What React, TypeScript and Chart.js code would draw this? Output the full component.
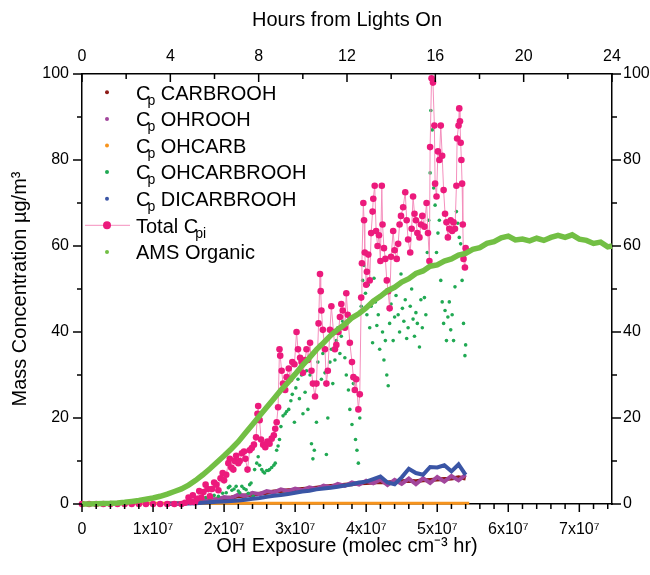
import React, { useEffect, useRef } from 'react';
import { Chart, registerables } from 'chart.js';

Chart.register(...registerables);

const FONT = '"Liberation Sans", Arial, Helvetica, sans-serif';
const EXPOSURE_UNIT = 1e7; // x values below are in units of 1e7 molec cm^-3 hr
const X_MAX = 7.46; // in EXPOSURE_UNIT
const HOURS_MAX = 24;

const exposureTicks = [0, 1, 2, 3, 4, 5, 6, 7];
const hourTicks = [0, 4, 8, 12, 16, 20, 24];
const concTicks = [0, 20, 40, 60, 80, 100];

const COLORS = {
  carbrooh: '#8e1b17',
  ohrooh: '#a2469c',
  ohcarb: '#f7941d',
  ohcarbrooh: '#20a953',
  dicarbrooh: '#3a55a5',
  total: '#ec1a7c',
  totalLine: '#f48fbd',
  ams: '#72bf44',
};

// AMS Organic [exposure, µg/m3]
const amsOrganic: [number, number][] = [
  [0, 0], [0.1, 0.02], [0.2, 0.05], [0.3, 0.1], [0.4, 0.15], [0.5, 0.25], [0.6, 0.4], [0.7, 0.6],
  [0.8, 0.8], [0.9, 1.1], [1.0, 1.4], [1.1, 1.8], [1.2, 2.3], [1.3, 2.9], [1.4, 3.5], [1.5, 4.4],
  [1.6, 5.5], [1.7, 6.8], [1.8, 8.2], [1.9, 9.7], [2.0, 11.2], [2.1, 12.8], [2.2, 14.5],
  [2.3, 16.5], [2.4, 18.5], [2.5, 20.5], [2.6, 22.5], [2.7, 24.5], [2.8, 26.5], [2.9, 28.3],
  [3.0, 30.2], [3.1, 32.2], [3.2, 34.0], [3.3, 35.9], [3.4, 37.5], [3.5, 39.2], [3.6, 40.6],
  [3.7, 41.8], [3.8, 43.3], [3.9, 44.3], [4.0, 45.6], [4.1, 47.2], [4.2, 48.3], [4.3, 49.6],
  [4.4, 50.4], [4.5, 51.6], [4.6, 52.4], [4.7, 53.6], [4.8, 54.2], [4.9, 55.3], [5.0, 55.6],
  [5.1, 56.5], [5.2, 57.0], [5.3, 57.9], [5.4, 58.3], [5.5, 59.2], [5.6, 59.6], [5.7, 60.6],
  [5.8, 61.0], [5.9, 61.9], [6.0, 62.3], [6.1, 61.4], [6.2, 61.6], [6.3, 61.2], [6.4, 61.8],
  [6.5, 61.3], [6.6, 62.0], [6.7, 62.5], [6.8, 62.0], [6.9, 62.6], [7.0, 61.6], [7.1, 61.3],
  [7.2, 60.6], [7.3, 60.9], [7.4, 59.8], [7.46, 60.0],
];

// Component series share one exposure grid
const componentX = [
  1.2, 1.3, 1.4, 1.5, 1.6, 1.7, 1.8, 1.9, 2.0, 2.1, 2.2, 2.3, 2.4, 2.5, 2.6, 2.7, 2.8, 2.9, 3.0,
  3.1, 3.2, 3.3, 3.4, 3.5, 3.6, 3.7, 3.8, 3.9, 4.0, 4.1, 4.2, 4.3, 4.4, 4.5, 4.6, 4.7, 4.8, 4.9,
  5.0, 5.1, 5.2, 5.3, 5.4,
];
const carbroohY = [
  0.05, 0.1, 0.15, 0.3, 0.5, 0.7, 0.9, 1.1, 1.3, 1.5, 1.8, 2.0, 2.2, 2.4, 2.6, 2.9, 3.0, 3.2,
  3.3, 3.5, 3.6, 3.8, 4.0, 4.2, 4.3, 4.5, 4.6, 4.8, 4.9, 5.0, 5.1, 5.0, 5.2, 5.3, 5.4, 5.3, 5.5,
  5.6, 5.7, 5.8, 5.9, 6.2, 5.9,
];
const ohroohY = [
  0.08, 0.12, 0.2, 0.4, 0.7, 0.6, 1.2, 1.0, 1.6, 1.4, 2.2, 1.9, 2.6, 2.3, 3.0, 2.7, 3.4, 3.0,
  3.6, 3.2, 3.9, 3.5, 4.3, 3.9, 4.7, 4.2, 5.0, 4.5, 5.4, 4.8, 5.7, 4.4, 5.6, 4.7, 5.9, 4.6, 6.0,
  4.9, 6.3, 5.2, 6.5, 5.5, 6.8,
];
const dicarbroohY = [
  0.05, 0.08, 0.1, 0.1, 0.15, 0.3, 0.4, 0.5, 0.6, 0.7, 0.8, 1.0, 1.2, 1.4, 1.7, 1.9, 2.1, 2.3,
  2.6, 2.9, 3.1, 3.4, 3.6, 3.8, 4.0, 4.3, 4.6, 5.0, 5.2, 5.8, 6.4, 5.0, 4.6, 6.2, 8.2, 7.2, 6.8,
  8.6, 8.5, 9.0, 7.6, 9.2, 6.8,
];
const ohcarbX = [0, 1, 2, 3, 4, 5, 5.45];
const ohcarbY = [0.2, 0.2, 0.2, 0.2, 0.2, 0.2, 0.2];

// OHCARBROOH [exposure, µg/m3]
const ohcarbrooh: [number, number][] = [
  [1.50, 0.5], [1.56, 0.8], [1.62, 0.6], [1.68, 1.0], [1.74, 1.5], [1.80, 1.2], [1.86, 2.0],
  [1.92, 1.8], [1.98, 2.5], [2.03, 2.6], [2.06, 3.8], [2.08, 4.1], [2.11, 3.2], [2.14, 3.5],
  [2.17, 4.1], [2.20, 3.0], [2.22, 2.6], [2.25, 4.1], [2.28, 3.6], [2.31, 3.3], [2.34, 2.5],
  [2.36, 4.5], [2.38, 4.9], [2.41, 1.8], [2.43, 8.0], [2.46, 9.5], [2.48, 11.0], [2.50, 9.0],
  [2.53, 8.0], [2.55, 7.5], [2.57, 7.2], [2.60, 7.8], [2.62, 7.8], [2.64, 8.0], [2.67, 8.5],
  [2.70, 9.0], [2.72, 9.5], [2.74, 12.5], [2.76, 13.5], [2.78, 15.0], [2.80, 18.0], [2.83, 20.5],
  [2.86, 21.0], [2.88, 21.5], [2.91, 22.0], [2.94, 24.0], [2.96, 25.5], [2.99, 19.0], [3.01, 27.0],
  [3.04, 29.0], [3.06, 24.5], [3.09, 30.0], [3.11, 21.0], [3.14, 26.0], [3.16, 31.0], [3.18, 22.0],
  [3.21, 30.0], [3.23, 14.0], [3.25, 10.5], [3.27, 12.5], [3.30, 19.0], [3.32, 33.0], [3.35, 37.0],
  [3.37, 29.0], [3.39, 35.0], [3.42, 30.5], [3.44, 11.5], [3.46, 20.0], [3.49, 33.0], [3.51, 36.0],
  [3.53, 28.0], [3.56, 33.5], [3.58, 38.0], [3.60, 41.0], [3.63, 35.0], [3.65, 39.0], [3.67, 42.5],
  [3.70, 34.0], [3.72, 30.0], [3.75, 26.5], [3.77, 22.0], [3.80, 18.5], [3.82, 28.0], [3.85, 15.0],
  [3.87, 12.5], [3.89, 9.5], [3.91, 20.0], [3.93, 46.0], [3.95, 52.0], [3.97, 55.5], [3.99, 49.0],
  [4.01, 44.0], [4.03, 51.0], [4.05, 41.0], [4.07, 46.0], [4.09, 37.5], [4.11, 52.5], [4.13, 47.0],
  [4.15, 41.5], [4.17, 44.0], [4.19, 36.0], [4.21, 48.5], [4.23, 40.0], [4.25, 33.5], [4.27, 38.0],
  [4.29, 30.0], [4.31, 27.5], [4.33, 42.0], [4.35, 46.5], [4.38, 38.0], [4.40, 43.5], [4.42, 48.5],
  [4.45, 44.0], [4.47, 40.0], [4.49, 53.5], [4.51, 45.5], [4.53, 42.5], [4.55, 47.5], [4.57, 38.5],
  [4.59, 41.0], [4.62, 46.0], [4.64, 50.0], [4.66, 43.0], [4.68, 39.0], [4.70, 44.5], [4.72, 42.0],
  [4.75, 36.5], [4.77, 47.5], [4.79, 41.0], [4.82, 48.0], [4.84, 44.0], [4.86, 58.5], [4.88, 66.0],
  [4.90, 77.0], [4.91, 91.5], [4.93, 87.0], [4.95, 73.5], [4.97, 69.5], [4.99, 58.5], [5.01, 63.0],
  [5.03, 66.0], [5.05, 52.0], [5.07, 47.0], [5.09, 42.0], [5.11, 45.0], [5.13, 38.0], [5.15, 43.5],
  [5.17, 47.0], [5.19, 40.5], [5.21, 44.0], [5.23, 38.0], [5.25, 50.5], [5.27, 68.0], [5.29, 65.3],
  [5.31, 62.0], [5.33, 60.5], [5.35, 52.0], [5.37, 42.0], [5.39, 34.5], [5.40, 37.0],
];

// Total Cpi [exposure, µg/m3]
const totalCpi: [number, number][] = [
  [0, 0], [0.1, 0], [0.2, 0], [0.3, 0], [0.4, 0], [0.5, 0], [0.6, 0], [0.7, 0], [0.8, 0],
  [0.9, 0], [1.0, 0], [1.1, 0], [1.2, 0], [1.3, 0], [1.4, 0],
  [1.45, 0.3], [1.50, 1.5], [1.53, 0.5], [1.56, 2.0], [1.59, 0.4], [1.62, 1.2], [1.65, 3.0],
  [1.68, 1.5], [1.71, 2.8], [1.74, 4.5], [1.77, 3.5], [1.80, 1.8], [1.83, 3.5], [1.86, 5.0],
  [1.89, 4.5], [1.92, 3.2], [1.95, 6.0], [1.98, 7.2], [2.00, 5.5], [2.03, 6.8], [2.06, 9.5],
  [2.08, 10.5], [2.10, 8.5], [2.13, 8.0], [2.15, 10.0], [2.17, 11.2], [2.20, 9.5], [2.22, 10.0],
  [2.25, 11.8], [2.28, 12.2], [2.30, 10.5], [2.33, 8.0], [2.36, 12.5], [2.39, 13.0], [2.42, 13.8],
  [2.45, 15.5], [2.47, 21.0], [2.48, 22.8], [2.50, 19.5], [2.52, 15.0], [2.55, 13.8], [2.58, 13.2],
  [2.61, 14.5], [2.64, 14.0], [2.67, 15.2], [2.70, 16.0], [2.72, 17.5], [2.74, 19.0], [2.76, 22.5],
  [2.78, 36.0], [2.79, 34.5], [2.81, 31.0], [2.83, 28.0], [2.86, 26.5], [2.88, 29.5], [2.91, 31.5],
  [2.93, 29.0], [2.96, 33.0], [2.99, 32.5], [3.02, 40.0], [3.04, 36.0], [3.07, 34.0], [3.09, 33.0],
  [3.11, 30.5], [3.14, 33.5], [3.16, 36.0], [3.18, 33.5], [3.21, 37.5], [3.23, 31.0], [3.25, 28.0],
  [3.28, 25.0], [3.30, 28.0], [3.33, 42.0], [3.35, 53.5], [3.36, 49.5], [3.37, 45.0], [3.39, 40.5],
  [3.42, 36.0], [3.44, 28.0], [3.46, 31.0], [3.49, 40.5], [3.51, 46.0], [3.54, 40.0], [3.56, 36.0],
  [3.58, 37.0], [3.61, 40.0], [3.63, 43.5], [3.65, 46.5], [3.67, 45.0], [3.70, 41.0], [3.72, 49.0],
  [3.74, 44.0], [3.77, 37.5], [3.80, 33.0], [3.82, 29.5], [3.84, 26.5], [3.86, 29.0], [3.89, 22.0],
  [3.91, 25.5], [3.93, 48.0], [3.94, 56.0], [3.96, 70.0], [3.97, 66.0], [3.98, 58.5], [4.00, 51.0],
  [4.01, 54.0], [4.03, 58.0], [4.05, 52.0], [4.07, 63.0], [4.09, 68.0], [4.10, 71.0], [4.12, 74.0],
  [4.14, 63.5], [4.16, 60.0], [4.18, 62.5], [4.20, 56.5], [4.22, 74.0], [4.23, 65.0], [4.25, 59.5],
  [4.27, 57.0], [4.29, 52.0], [4.31, 49.5], [4.33, 45.5], [4.35, 57.5], [4.38, 63.5], [4.40, 59.0],
  [4.43, 57.0], [4.45, 60.5], [4.47, 65.0], [4.49, 67.0], [4.52, 69.0], [4.55, 72.5], [4.57, 66.0],
  [4.59, 61.5], [4.62, 58.5], [4.64, 64.0], [4.66, 71.5], [4.68, 67.5], [4.70, 66.0], [4.72, 63.0],
  [4.75, 62.0], [4.77, 65.0], [4.79, 67.0], [4.82, 64.5], [4.85, 70.0], [4.87, 63.0], [4.89, 56.5],
  [4.90, 83.0], [4.92, 99.0], [4.94, 98.0], [4.96, 88.0], [4.97, 74.5], [4.99, 71.5], [5.01, 82.0],
  [5.03, 80.0], [5.05, 88.0], [5.07, 81.0], [5.09, 73.0], [5.11, 67.5], [5.13, 65.5], [5.15, 62.0],
  [5.17, 64.0], [5.19, 66.0], [5.21, 63.5], [5.23, 65.5], [5.25, 64.0], [5.27, 74.0], [5.28, 85.0],
  [5.30, 88.0], [5.31, 92.0], [5.32, 89.0], [5.33, 84.0], [5.34, 80.0], [5.35, 74.5], [5.36, 65.0],
  [5.37, 57.0], [5.39, 55.0], [5.40, 59.5],
];

const legendEntries = [
  { main: 'C', sub: 'p', rest: ' CARBROOH', color: COLORS.carbrooh, kind: 'dot' },
  { main: 'C', sub: 'p', rest: ' OHROOH', color: COLORS.ohrooh, kind: 'dot' },
  { main: 'C', sub: 'p', rest: ' OHCARB', color: COLORS.ohcarb, kind: 'dot' },
  { main: 'C', sub: 'p', rest: ' OHCARBROOH', color: COLORS.ohcarbrooh, kind: 'dot' },
  { main: 'C', sub: 'p', rest: ' DICARBROOH', color: COLORS.dicarbrooh, kind: 'dot' },
  { main: 'Total C', sub: 'pi', rest: '', color: COLORS.total, kind: 'line' },
  { main: 'AMS Organic', sub: '', rest: '', color: COLORS.ams, kind: 'dot' },
];

const toPoints = (pairs: [number, number][]) =>
  pairs.map(([x, y]) => ({ x: x * EXPOSURE_UNIT, y }));
const zipPoints = (xs: number[], ys: number[]) =>
  xs.map((x, i) => ({ x: x * EXPOSURE_UNIT, y: ys[i] }));

const frameTicksPlugin = {
  id: 'frameTicks',
  afterDatasetsDraw(chart: any) {
    const { ctx, chartArea: a, scales } = chart;
    ctx.save();
    ctx.strokeStyle = '#000';
    ctx.lineWidth = 1.5;
    const seg = (x1: number, y1: number, x2: number, y2: number) => {
      ctx.beginPath();
      ctx.moveTo(x1, y1);
      ctx.lineTo(x2, y2);
      ctx.stroke();
    };
    // bottom: every 0.2e7, major every 1e7, outward
    for (let i = 0; i <= 37; i++) {
      const px = scales.x.getPixelForValue(i * 0.2 * EXPOSURE_UNIT);
      seg(px, a.bottom, px, a.bottom + (i % 5 === 0 ? 8 : 5));
    }
    // top: every 2 h, major every 4 h, inward
    for (let h = 0; h <= HOURS_MAX; h += 2) {
      const px = scales.x2.getPixelForValue(h);
      seg(px, a.top, px, a.top + (h % 4 === 0 ? 8 : 5));
    }
    // left and right: every 10, major every 20, outward
    for (let v = 0; v <= 100; v += 10) {
      const py = scales.y.getPixelForValue(v);
      const len = v % 20 === 0 ? 9 : 5;
      seg(a.left - len, py, a.left, py);
      seg(a.right, py, a.right + len, py);
    }
    ctx.restore();
  },
};

const legendPlugin = {
  id: 'subscriptLegend',
  afterDraw(chart: any) {
    const { ctx, chartArea: a } = chart;
    ctx.save();
    const markerX = a.left + 25;
    const textX = a.left + 54;
    legendEntries.forEach((e, i) => {
      const cy = a.top + 18.3 + i * 26.6;
      if (e.kind === 'line') {
        ctx.strokeStyle = COLORS.totalLine;
        ctx.lineWidth = 1;
        ctx.beginPath();
        ctx.moveTo(markerX - 22, cy);
        ctx.lineTo(markerX + 23, cy);
        ctx.stroke();
        ctx.fillStyle = e.color;
        ctx.beginPath();
        ctx.arc(markerX, cy, 4, 0, Math.PI * 2);
        ctx.fill();
      } else {
        ctx.fillStyle = e.color;
        ctx.beginPath();
        ctx.arc(markerX, cy, 2, 0, Math.PI * 2);
        ctx.fill();
      }
      ctx.fillStyle = '#000';
      ctx.textBaseline = 'alphabetic';
      ctx.textAlign = 'left';
      const base = cy + 7.2;
      let x = textX;
      ctx.font = `20px ${FONT}`;
      ctx.fillText(e.main, x, base);
      x += ctx.measureText(e.main).width;
      if (e.sub) {
        x -= 3;
        ctx.font = `14px ${FONT}`;
        ctx.fillText(e.sub, x, base + 5);
        x += ctx.measureText(e.sub).width;
        ctx.font = `20px ${FONT}`;
      }
      if (e.rest) ctx.fillText(e.rest, x, base);
    });
    ctx.restore();
  },
};

const tickFont = { family: FONT, size: 16 };
const titleFont = { family: FONT, size: 20 };
const border = { display: true, color: '#000', width: 1.5 };
const noGrid = { display: false, drawTicks: false };

export default function App() {
  const canvasRef = useRef<HTMLCanvasElement | null>(null);

  useEffect(() => {
    if (!canvasRef.current) return;
    const chart = new Chart(canvasRef.current, {
      type: 'scatter',
      data: {
        datasets: [
          {
            label: 'AMS Organic',
            data: toPoints(amsOrganic),
            showLine: true,
            borderColor: COLORS.ams,
            borderWidth: 5.5,
            pointRadius: 0,
            order: 0,
            clip: false,
          } as any,
          {
            label: 'Total Cpi',
            data: toPoints(totalCpi),
            showLine: true,
            borderColor: COLORS.totalLine,
            borderWidth: 1,
            pointRadius: 3.3,
            pointBackgroundColor: COLORS.total,
            pointBorderWidth: 0,
            order: 1,
            clip: false,
          },
          {
            label: 'Cp DICARBROOH',
            data: zipPoints(componentX, dicarbroohY),
            showLine: true,
            borderColor: COLORS.dicarbrooh,
            borderWidth: 4,
            pointRadius: 0,
            order: 2,
            clip: false,
          },
          {
            label: 'Cp OHCARBROOH',
            data: toPoints(ohcarbrooh),
            showLine: false,
            pointRadius: 1.8,
            pointBackgroundColor: COLORS.ohcarbrooh,
            pointBorderWidth: 0,
            order: 3,
            clip: false,
          },
          {
            label: 'Cp OHCARB',
            data: zipPoints(ohcarbX, ohcarbY),
            showLine: true,
            borderColor: COLORS.ohcarb,
            borderWidth: 3,
            pointRadius: 0,
            order: 4,
            clip: false,
          },
          {
            label: 'Cp OHROOH',
            data: zipPoints(componentX, ohroohY),
            showLine: true,
            borderColor: COLORS.ohrooh,
            borderWidth: 4,
            pointRadius: 0,
            order: 5,
            clip: false,
          },
          {
            label: 'Cp CARBROOH',
            data: zipPoints(componentX, carbroohY),
            showLine: true,
            borderColor: COLORS.carbrooh,
            borderWidth: 4,
            pointRadius: 0,
            order: 6,
            clip: false,
          },
        ],
      },
      options: {
        animation: false,
        responsive: false,
        devicePixelRatio: 1,
        layout: { padding: 0 },
        plugins: {
          legend: { display: false },
          tooltip: { enabled: false },
        },
        scales: {
          x: {
            type: 'linear',
            position: 'bottom',
            min: 0,
            max: X_MAX * EXPOSURE_UNIT,
            afterBuildTicks: (s: any) => {
              s.ticks = exposureTicks.map((v) => ({ value: v * EXPOSURE_UNIT }));
            },
            afterFit: (s: any) => {
              s.height = 71;
            },
            ticks: {
              font: tickFont,
              color: '#000',
              padding: 16,
              autoSkip: false,
              maxRotation: 0,
              callback: (v: any) => {
                const n = Math.round(Number(v) / EXPOSURE_UNIT);
                return n === 0 ? '0' : `${n}x10\u2077`;
              },
            },
            grid: noGrid,
            border,
            title: {
              display: true,
              text: 'OH Exposure (molec cm\u207B\u00B3 hr)',
              font: titleFont,
              color: '#000',
              padding: { top: 0, bottom: 17 },
            },
          },
          x2: {
            type: 'linear',
            position: 'top',
            min: 0,
            max: HOURS_MAX,
            afterBuildTicks: (s: any) => {
              s.ticks = hourTicks.map((v) => ({ value: v }));
            },
            afterFit: (s: any) => {
              s.height = 74;
            },
            ticks: {
              font: tickFont,
              color: '#000',
              padding: 8,
              autoSkip: false,
              maxRotation: 0,
              callback: (v: any) => String(v),
            },
            grid: noGrid,
            border,
            title: {
              display: true,
              text: 'Hours from Lights On',
              font: titleFont,
              color: '#000',
              padding: { top: 8, bottom: 0 },
            },
          },
          y: {
            type: 'linear',
            position: 'left',
            min: 0,
            max: 100,
            afterBuildTicks: (s: any) => {
              s.ticks = concTicks.map((v) => ({ value: v }));
            },
            afterFit: (s: any) => {
              s.width = 82;
            },
            ticks: { font: tickFont, color: '#000', padding: 13, autoSkip: false },
            grid: noGrid,
            border,
            title: {
              display: true,
              text: 'Mass Concentration \u00B5g/m\u00B3',
              font: titleFont,
              color: '#000',
              padding: { top: 8, bottom: 0 },
            },
          },
          y2: {
            type: 'linear',
            position: 'right',
            min: 0,
            max: 100,
            afterBuildTicks: (s: any) => {
              s.ticks = concTicks.map((v) => ({ value: v }));
            },
            afterFit: (s: any) => {
              s.width = 38;
            },
            ticks: { font: tickFont, color: '#000', padding: 11, autoSkip: false },
            grid: noGrid,
            border,
          },
        },
      },
      plugins: [frameTicksPlugin, legendPlugin],
    } as any);
    return () => chart.destroy();
  }, []);

  return (
    <div style={{ position: 'absolute', left: 0, top: 0, width: 650, height: 575, background: '#fff' }}>
      <canvas ref={canvasRef} width={650} height={575} style={{ display: 'block' }} />
    </div>
  );
}
